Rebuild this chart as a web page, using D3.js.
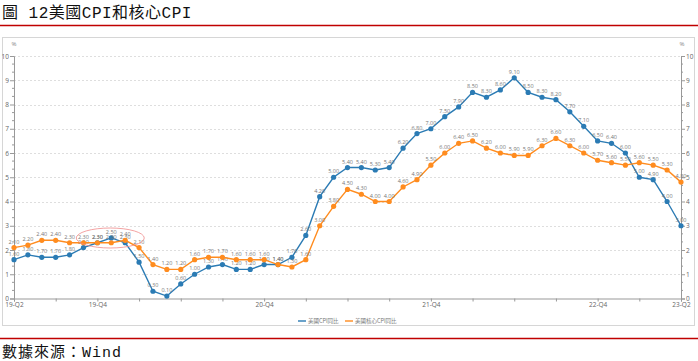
<!DOCTYPE html>
<html>
<head>
<meta charset="utf-8">
<script src="https://cdn.jsdelivr.net/npm/d3@7"></script>
<style>
  body { margin: 0; background: #fff; }
  svg { display: block; }
</style>
</head>
<body>
<div id="chart"></div>
<script>
// Months from 2019-06 to 2023-06
const months = [];
for (let y = 2019, m = 6; y < 2023 || (y === 2023 && m <= 6); m++) {
  if (m > 12) { m = 1; y++; }
  months.push(`${y}-${String(m).padStart(2, '0')}`);
}

const cpi = [1.6, 1.8, 1.7, 1.7, 1.8, 2.1, 2.3, 2.5, 2.3, 1.5, 0.3, 0.1, 0.6,
  1.0, 1.3, 1.4, 1.2, 1.2, 1.4, 1.4, 1.7, 2.6, 4.2, 5.0, 5.4, 5.4, 5.3, 5.4,
  6.2, 6.8, 7.0, 7.5, 7.9, 8.5, 8.3, 8.6, 9.1, 8.5, 8.3, 8.2, 7.7, 7.1, 6.5,
  6.4, 6.0, 5.0, 4.9, 4.0, 3.0];

const coreCpi = [2.1, 2.2, 2.4, 2.4, 2.3, 2.3, 2.3, 2.3, 2.4, 2.1, 1.4, 1.2,
  1.2, 1.6, 1.7, 1.7, 1.6, 1.6, 1.6, 1.4, 1.3, 1.6, 3.0, 3.8, 4.5, 4.3, 4.0,
  4.0, 4.6, 4.9, 5.5, 6.0, 6.4, 6.5, 6.2, 6.0, 5.9, 5.9, 6.3, 6.6, 6.3, 6.0,
  5.7, 5.6, 5.5, 5.6, 5.5, 5.3, 4.8];

const xLabels = {
  '2019-06': '19-Q2', '2019-12': '19-Q4', '2020-12': '20-Q4',
  '2021-12': '21-Q4', '2022-12': '22-Q4', '2023-06': '23-Q2'
};

const seriesNames = ['美國CPI同比', '美國核心CPI同比'];
const seriesColors = ['#2b7bb4', '#ff8c1f'];

const width = 698, height = 361;
const svg = d3.select('#chart').append('svg')
    .attr('width', width)
    .attr('height', height);

/* Title and footer */
const headFont = '"Liberation Mono", "Noto Sans CJK TC", monospace';
svg.append('text')
    .attr('x', 2).attr('y', 18)
    .attr('font-family', headFont)
    .attr('font-size', 16)
    .attr('letter-spacing', 0.5)
    .attr('fill', '#111')
    .text('圖 12美國CPI和核心CPI');
svg.append('line')
    .attr('x1', 0).attr('x2', width).attr('y1', 25.5).attr('y2', 25.5)
    .attr('stroke', '#c00000').attr('stroke-width', 1.3);
svg.append('rect')
    .attr('x', 2.5).attr('y', 37.5).attr('width', 692).attr('height', 288)
    .attr('fill', 'none').attr('stroke', '#d6d6d6');
svg.append('line')
    .attr('x1', 0).attr('x2', width).attr('y1', 338.5).attr('y2', 338.5)
    .attr('stroke', '#c00000').attr('stroke-width', 1.3);
svg.append('text')
    .attr('x', 2).attr('y', 357)
    .attr('font-family', headFont)
    .attr('font-size', 15)
    .attr('letter-spacing', 1)
    .attr('fill', '#111')
    .text('數據來源：Wind');

/* Scales */
const x = d3.scalePoint().domain(months).range([14, 681]);
const y = d3.scaleLinear().domain([0, 10]).range([298.5, 56]);

const plot = svg.append('g');

/* Grid */
plot.append('g')
    .selectAll('line')
    .data(d3.range(1, 11))
    .join('line')
    .attr('x1', 14).attr('x2', 681)
    .attr('y1', d => Math.round(y(d)) + 0.5)
    .attr('y2', d => Math.round(y(d)) + 0.5)
    .attr('stroke', '#dedede')
    .attr('stroke-dasharray', '2,2');

/* Axes */
const axisStyle = g => {
  g.select('.domain').attr('stroke', '#999');
  g.selectAll('.tick line').attr('stroke', '#999');
  g.selectAll('.tick text')
      .attr('fill', '#666')
      .attr('font-family', '"Open Sans", sans-serif')
      .attr('font-size', 6.5);
};

const minorVals = d3.range(0, 10, 1 / 3).map(v => +v.toFixed(4))
    .filter(v => Math.abs(v - Math.round(v)) > 0.01);

const yLeft = plot.append('g')
    .attr('transform', 'translate(14,0)')
    .call(d3.axisLeft(y).ticks(10).tickSize(4).tickPadding(1))
    .call(axisStyle);
yLeft.append('g').selectAll('line').data(minorVals).join('line')
    .attr('x1', -2).attr('x2', 0)
    .attr('y1', d => y(d)).attr('y2', d => y(d))
    .attr('stroke', '#999');

const yRight = plot.append('g')
    .attr('transform', 'translate(681,0)')
    .call(d3.axisRight(y).ticks(10).tickSize(4).tickPadding(1))
    .call(axisStyle);
yRight.append('g').selectAll('line').data(minorVals).join('line')
    .attr('x1', 0).attr('x2', 2)
    .attr('y1', d => y(d)).attr('y2', d => y(d))
    .attr('stroke', '#999');

plot.append('g')
    .attr('transform', `translate(0,${y(0)})`)
    .call(d3.axisBottom(x)
        .tickValues(months.filter((d, i) => i % 3 === 0))
        .tickSize(3)
        .tickPadding(1)
        .tickFormat(d => xLabels[d] || ''))
    .call(axisStyle);

svg.append('text').attr('x', 14).attr('y', 46)
    .attr('text-anchor', 'middle').attr('font-size', 6)
    .attr('font-family', '"Open Sans", sans-serif').attr('fill', '#888')
    .text('%');
svg.append('text').attr('x', 682).attr('y', 46)
    .attr('text-anchor', 'middle').attr('font-size', 6)
    .attr('font-family', '"Open Sans", sans-serif').attr('fill', '#888')
    .text('%');

/* Series */
const line = d3.line()
    .x((d, i) => x(months[i]))
    .y(d => y(d));

[cpi, coreCpi].forEach((values, s) => {
  const g = plot.append('g');
  g.append('path')
      .datum(values)
      .attr('d', line)
      .attr('fill', 'none')
      .attr('stroke', seriesColors[s])
      .attr('stroke-width', 1.4);
  g.selectAll('circle')
      .data(values)
      .join('circle')
      .attr('cx', (d, i) => x(months[i]))
      .attr('cy', d => y(d))
      .attr('r', 2.6)
      .attr('fill', seriesColors[s]);
  g.selectAll('text')
      .data(values)
      .join('text')
      .attr('x', (d, i) => x(months[i]))
      .attr('y', d => y(d) - 4)
      .attr('text-anchor', 'middle')
      .attr('font-family', '"Open Sans", sans-serif')
      .attr('font-size', 5.5)
      .attr('fill', '#777')
      .text(d => d.toFixed(2));
});

/* Highlight ellipse */
svg.append('ellipse')
    .attr('cx', x('2020-01') - 1).attr('cy', 238)
    .attr('rx', 34).attr('ry', 10)
    .attr('fill', 'none')
    .attr('stroke', '#f08c8c')
    .attr('stroke-width', 0.8);

/* Legend */
const legend = svg.append('g').attr('transform', 'translate(298,321)');
const legendX = [0, 47];
seriesNames.forEach((name, i) => {
  legend.append('line')
      .attr('x1', legendX[i]).attr('x2', legendX[i] + 8)
      .attr('stroke', seriesColors[i])
      .attr('stroke-opacity', 0.7)
      .attr('stroke-width', 2);
  legend.append('text')
      .attr('x', legendX[i] + 10).attr('y', 2)
      .attr('font-family', '"Noto Sans CJK TC", sans-serif')
      .attr('font-size', 5.5)
      .attr('fill', '#777')
      .text(name);
});
</script>
</body>
</html>
